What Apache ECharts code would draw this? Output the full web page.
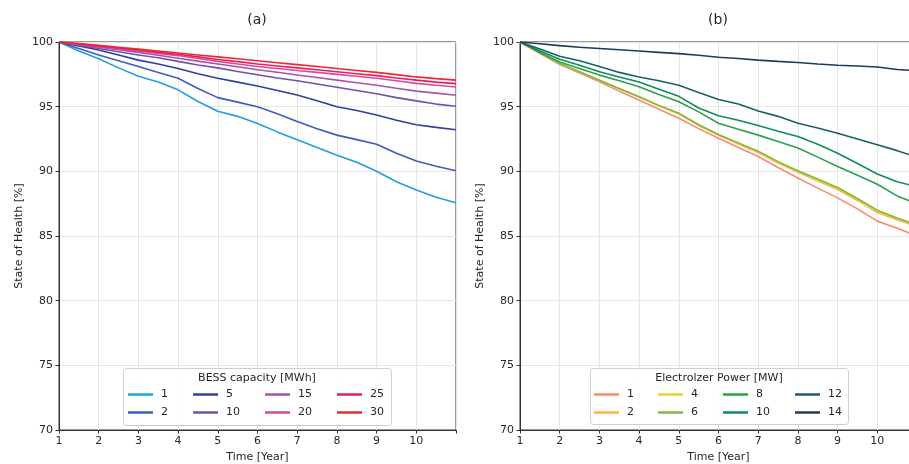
<!DOCTYPE html>
<html>
<head>
<meta charset="utf-8">
<script src="https://cdn.jsdelivr.net/npm/echarts@6/dist/echarts.min.js"></script>
<style>
  html, body { margin: 0; padding: 0; background: #fff; }
  #chart { width: 909px; height: 464px; }
</style>
</head>
<body>
<div id="chart"></div>
<script>
// time axis shared by every curve (years)
const years = [1, 1.5, 2, 2.5, 3, 3.5, 4, 4.5, 5, 5.5, 6, 6.5, 7, 7.5, 8, 8.5, 9, 9.5, 10, 10.5, 11];

// (a) BESS capacity [MWh]
const bessNames = ['1', '2', '5', '10', '15', '20', '25', '30'];
const bess1  = [100, 99.3, 98.7, 98.0, 97.35, 96.9, 96.3, 95.4, 94.65, 94.25, 93.7, 93.05, 92.45, 91.85, 91.25, 90.7, 90.0, 89.2, 88.55, 88.0, 87.57];
const bess2  = [100, 99.5, 99.0, 98.55, 98.1, 97.65, 97.2, 96.4, 95.7, 95.35, 95.0, 94.45, 93.85, 93.3, 92.8, 92.45, 92.1, 91.4, 90.8, 90.4, 90.05];
const bess5  = [100, 99.7, 99.38, 99.0, 98.6, 98.3, 97.95, 97.55, 97.2, 96.9, 96.6, 96.25, 95.9, 95.45, 95.0, 94.7, 94.35, 93.95, 93.6, 93.4, 93.22];
const bess10 = [100, 99.76, 99.5, 99.25, 99.0, 98.78, 98.5, 98.22, 98.0, 97.72, 97.47, 97.22, 97.0, 96.75, 96.5, 96.25, 96.0, 95.7, 95.45, 95.2, 95.03];
const bess15 = [100, 99.8, 99.6, 99.4, 99.2, 98.98, 98.75, 98.52, 98.3, 98.08, 97.86, 97.66, 97.45, 97.25, 97.05, 96.85, 96.65, 96.42, 96.2, 96.05, 95.88];
const bess20 = [100, 99.83, 99.65, 99.48, 99.3, 99.12, 98.95, 98.72, 98.5, 98.3, 98.1, 97.95, 97.8, 97.65, 97.5, 97.35, 97.2, 97.0, 96.8, 96.65, 96.52];
const bess25 = [100, 99.85, 99.7, 99.54, 99.38, 99.22, 99.05, 98.85, 98.65, 98.48, 98.3, 98.15, 98.0, 97.85, 97.7, 97.55, 97.4, 97.22, 97.05, 96.9, 96.78];
const bess30 = [100, 99.88, 99.75, 99.6, 99.45, 99.3, 99.15, 99.0, 98.85, 98.7, 98.55, 98.4, 98.25, 98.1, 97.95, 97.8, 97.65, 97.48, 97.3, 97.17, 97.05];
const bessColors = ['#1f9ee0', '#3d5cbf', '#2f3f9e', '#6e52ad', '#a555a8', '#d9489c', '#ea1c5c', '#f0282d'];

// (b) Electrolyzer power [MW]
const elecNames = ['1', '2', '4', '6', '8', '10', '12', '14'];
const elec1  = [100, 99.1, 98.26, 97.6, 96.92, 96.2, 95.51, 94.8, 94.1, 93.3, 92.56, 91.85, 91.15, 90.3, 89.49, 88.7, 87.95, 87.1, 86.15, 85.6, 85.0];
const elec2  = [100, 99.15, 98.3, 97.68, 97.02, 96.38, 95.74, 95.06, 94.45, 93.55, 92.78, 92.12, 91.46, 90.65, 89.92, 89.25, 88.6, 87.75, 86.82, 86.25, 85.72];
const elec4  = [100, 99.15, 98.31, 97.69, 97.04, 96.39, 95.76, 95.08, 94.48, 93.58, 92.82, 92.17, 91.51, 90.7, 89.99, 89.33, 88.68, 87.83, 86.92, 86.33, 85.8];
const elec6  = [100, 99.16, 98.33, 97.7, 97.05, 96.4, 95.77, 95.1, 94.5, 93.6, 92.85, 92.2, 91.55, 90.75, 90.05, 89.4, 88.75, 87.9, 87.0, 86.4, 85.85];
const elec8  = [100, 99.2, 98.46, 97.95, 97.44, 97.0, 96.54, 95.95, 95.38, 94.6, 93.72, 93.25, 92.8, 92.3, 91.8, 91.1, 90.38, 89.7, 89.0, 88.1, 87.5];
const elec10 = [100, 99.3, 98.67, 98.2, 97.7, 97.3, 96.9, 96.35, 95.8, 94.9, 94.3, 93.95, 93.54, 93.1, 92.7, 92.1, 91.4, 90.6, 89.8, 89.2, 88.8];
const elec12 = [100, 99.45, 98.9, 98.55, 98.1, 97.65, 97.3, 97.0, 96.65, 96.1, 95.56, 95.2, 94.67, 94.25, 93.72, 93.35, 92.95, 92.5, 92.05, 91.6, 91.1];
const elec14 = [100, 99.87, 99.72, 99.6, 99.5, 99.4, 99.3, 99.2, 99.1, 98.98, 98.82, 98.72, 98.6, 98.5, 98.42, 98.3, 98.2, 98.15, 98.07, 97.87, 97.78];
const elecColors = ['#f98b6d', '#fbb347', '#e3d237', '#82b844', '#2aa04a', '#138a5c', '#1b5f66', '#1e3a5c'];

const yTicks = [70, 75, 80, 85, 90, 95, 100];

const bessData = [bess1, bess2, bess5, bess10, bess15, bess20, bess25, bess30];
const elecData = [elec1, elec2, elec4, elec6, elec8, elec10, elec12, elec14];

const FONT = 'DejaVu Sans';
const TXT = '#262626';

function makeAxes(gridIndex) {
  const x = {
    type: 'value', gridIndex, min: 1, max: 11, interval: 1,
    name: 'Time [Year]', nameLocation: 'middle', nameGap: 21,
    nameTextStyle: { fontFamily: FONT, fontSize: 11, color: TXT },
    axisLine: { show: true, onZero: false, lineStyle: { color: '#333', width: 1 } },
    axisTick: { show: true, length: 3.5, lineStyle: { color: '#333' } },
    axisLabel: { fontFamily: FONT, fontSize: 11, color: TXT, margin: 6,
      formatter: v => (v === 11 ? '' : String(v)) },
    splitLine: { show: true, lineStyle: { color: '#e6e6e6', width: 1 } }
  };
  const y = {
    type: 'value', gridIndex, min: yTicks[0], max: yTicks[yTicks.length - 1], interval: 5,
    name: 'State of Health [%]', nameLocation: 'middle', nameGap: 34,
    nameTextStyle: { fontFamily: FONT, fontSize: 11, color: TXT },
    axisLine: { show: true, lineStyle: { color: '#333', width: 1 } },
    axisTick: { show: true, length: 3.5, lineStyle: { color: '#333' } },
    axisLabel: { fontFamily: FONT, fontSize: 11, color: TXT, margin: 6 },
    splitLine: { show: true, lineStyle: { color: '#e6e6e6', width: 1 } }
  };
  return { x, y };
}

const a = makeAxes(0), b = makeAxes(1);

function makeSeries(prefix, names, data, colors, gridIdx) {
  return names.map((n, i) => ({
    name: prefix + n,
    type: 'line',
    xAxisIndex: gridIdx, yAxisIndex: gridIdx,
    symbol: 'none',
    lineStyle: { width: 1.6, color: colors[i] },
    itemStyle: { color: colors[i] },
    data: years.map((t, k) => [t, data[i][k]]),
    z: 2 + i * 0.01
  }));
}

// one legend per column, items ordered column-wise like matplotlib ncol=4
function makeLegends(prefix, names, colLeft, top) {
  const out = [];
  for (let c = 0; c < 4; c++) {
    out.push({
      orient: 'vertical',
      left: colLeft[c], top,
      itemWidth: 25, itemHeight: 2.5, itemGap: 5,
      icon: 'rect',
      selectedMode: false,
      data: [prefix + names[c * 2], prefix + names[c * 2 + 1]],
      formatter: s => s.slice(prefix.length),
      textStyle: { fontFamily: FONT, fontSize: 11, color: TXT, lineHeight: 13, padding: [0, 0, 0, 3] },
      padding: 0, z: 10
    });
  }
  return out;
}

const chart = echarts.init(document.getElementById('chart'), null, { renderer: 'canvas' });
chart.setOption({
  animation: false,
  backgroundColor: '#fff',
  grid: [
    { left: 59, top: 42, width: 397, height: 388, outerBoundsMode: 'none', show: true, borderColor: '#333', borderWidth: 1, backgroundColor: 'transparent' },
    { left: 520, top: 42, width: 397, height: 388, outerBoundsMode: 'none', show: true, borderColor: '#333', borderWidth: 1, backgroundColor: 'transparent' }
  ],
  xAxis: [a.x, b.x],
  yAxis: [a.y, b.y],
  legend: [
    ...makeLegends('a', bessNames, [128, 193, 265, 337], 388),
    ...makeLegends('b', elecNames, [594, 658, 723, 795], 388)
  ],
  graphic: [
    { type: 'text', x: 257, y: 20, z: 10, style: { text: '(a)', font: '14px "DejaVu Sans"', fill: TXT, textAlign: 'center', textVerticalAlign: 'middle' } },
    { type: 'text', x: 718, y: 20, z: 10, style: { text: '(b)', font: '14px "DejaVu Sans"', fill: TXT, textAlign: 'center', textVerticalAlign: 'middle' } },
    { type: 'rect', z: 5, shape: { x: 123.5, y: 368.5, width: 268, height: 57, r: 3 }, style: { fill: 'rgba(255,255,255,0.85)', stroke: '#d0d0d0', lineWidth: 1 } },
    { type: 'rect', z: 5, shape: { x: 590.5, y: 368.5, width: 258, height: 56, r: 3 }, style: { fill: 'rgba(255,255,255,0.85)', stroke: '#d0d0d0', lineWidth: 1 } },
    { type: 'text', x: 257, y: 378, z: 10, style: { text: 'BESS capacity [MWh]', font: '11px "DejaVu Sans"', fill: TXT, textAlign: 'center', textVerticalAlign: 'middle' } },
    { type: 'text', x: 719, y: 378, z: 10, style: { text: 'Electrolzer Power [MW]', font: '11px "DejaVu Sans"', fill: TXT, textAlign: 'center', textVerticalAlign: 'middle' } }
  ],
  series: [
    ...makeSeries('a', bessNames, bessData, bessColors, 0),
    ...makeSeries('b', elecNames, elecData, elecColors, 1)
  ]
});
</script>
</body>
</html>
